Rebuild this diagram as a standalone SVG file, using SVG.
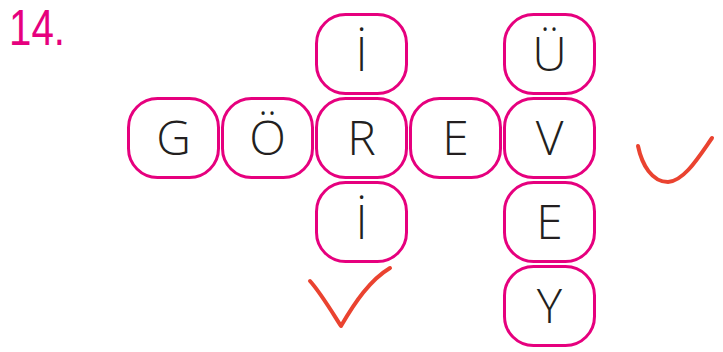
<svg xmlns="http://www.w3.org/2000/svg" width="723" height="352" viewBox="0 0 723 352">
<style>
.box{fill:#fff;stroke:#E6007E;stroke-width:3}
.ltr{font-family:"Open Sans","Lato","Liberation Sans",sans-serif;font-weight:300;font-size:48px;fill:#231F20;text-anchor:middle}
.num{font-family:"Liberation Sans","Open Sans",sans-serif;font-size:50px;fill:#E6007E}
.chk{fill:none;stroke:#EA4330;stroke-width:4;stroke-linecap:round;stroke-linejoin:round}
</style>
<rect width="723" height="352" fill="#fff"/>
<text class="num" x="9" y="45" textLength="56" lengthAdjust="spacingAndGlyphs">14.</text>
<g id="n-I1"><rect class="box" x="316.5" y="14.5" width="90" height="79" rx="29"/><text class="ltr" x="361.5" y="71">İ</text></g>
<g id="n-U"><rect class="box" x="504.5" y="14.5" width="90" height="79" rx="29"/><text class="ltr" x="549.5" y="71">Ü</text></g>
<g id="n-G"><rect class="box" x="128.5" y="98.5" width="90" height="79" rx="29"/><text class="ltr" x="173.5" y="155">G</text></g>
<g id="n-O"><rect class="box" x="222.5" y="98.5" width="90" height="79" rx="29"/><text class="ltr" x="267.5" y="155">Ö</text></g>
<g id="n-R"><rect class="box" x="316.5" y="98.5" width="90" height="79" rx="29"/><text class="ltr" x="361.5" y="155">R</text></g>
<g id="n-E1"><rect class="box" x="410.5" y="98.5" width="90" height="79" rx="29"/><text class="ltr" x="455.5" y="155">E</text></g>
<g id="n-V"><rect class="box" x="504.5" y="98.5" width="90" height="79" rx="29"/><text class="ltr" x="549.5" y="155">V</text></g>
<g id="n-I2"><rect class="box" x="316.5" y="182.5" width="90" height="79" rx="29"/><text class="ltr" x="361.5" y="239">İ</text></g>
<g id="n-E2"><rect class="box" x="504.5" y="182.5" width="90" height="79" rx="29"/><text class="ltr" x="549.5" y="239">E</text></g>
<g id="n-Y"><rect class="box" x="504.5" y="266.5" width="90" height="79" rx="29"/><text class="ltr" x="549.5" y="323">Y</text></g>
<g id="connectors"></g>
<path class="chk" d="M310,281 C320,292 332,312 341,326 C355,302 370,280 390,268"/>
<path class="chk" d="M638,146 C642,165 652,182 668,182 C684,181 698,158 712,138"/>
</svg>
